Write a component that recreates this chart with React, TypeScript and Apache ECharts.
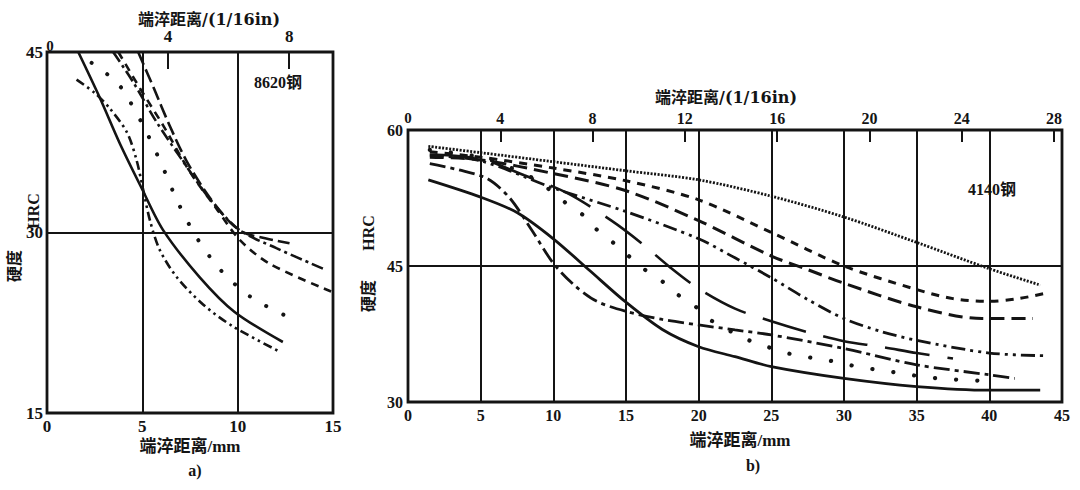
import { useEffect, useRef } from "react";
import * as echarts from "echarts";

// ---------- Left chart (8620钢) : [distance mm, HRC] ----------
const L_SOLID = [[1.64, 45], [2.77, 41.2], [3.82, 37.4], [4.96, 33.7], [6.09, 30.2], [8.0, 26.3], [9.84, 23.4], [12.37, 20.9]];
const L_DASHDOTDOT = [[1.55, 42.7], [2.5, 41.6], [3.3, 40.3], [4.2, 38.3], [4.7, 36.0], [5.05, 33.5], [5.4, 31.0], [5.9, 28.6], [6.8, 26.3], [8.2, 24.0], [9.75, 22.2], [12.2, 20.1]];
const L_DOTS = [[2.34, 44.1], [3.2, 43.1], [3.91, 42.0], [5.04, 38.9], [6.0, 35.7], [6.84, 32.6], [7.84, 29.6], [9.15, 26.8], [10.72, 24.6], [12.63, 23.0]];
const L_DASHDOT = [[3.47, 45], [4.52, 42.5], [5.74, 39.2], [7.14, 35.9], [8.53, 32.8], [10.1, 30.2], [12.03, 28.7], [14.47, 27.0]];
const L_SHORTDASH = [[3.74, 45], [4.87, 42.0], [6.09, 38.9], [7.49, 35.05], [8.88, 32.0], [10.1, 29.4], [11.68, 27.4], [14.9, 25.1]];
const L_LONGDASH = [[4.78, 45], [5.6, 42.0], [6.4, 39.0], [7.3, 36.0], [8.4, 33.2], [9.5, 31.0], [10.3, 30.0], [11.5, 29.5], [12.72, 29.1]];

// ---------- Right chart (4140钢) ----------
const R_FINEDOT = [[1.4, 58.2], [5, 57.5], [10, 56.5], [15, 55.5], [20, 54.5], [25, 52.7], [30, 50.4], [35, 47.6], [40, 44.7], [43.5, 42.9]];
const R_SHORTDASH = [[1.5, 57.6], [5, 57.0], [10, 55.8], [15, 54.4], [20, 52.3], [25, 48.7], [30, 45.0], [35, 42.4], [37.5, 41.4], [40, 41.1], [42, 41.4], [43.9, 42.0]];
const R_LONGDASH = [[1.5, 57.0], [5, 56.7], [10, 55.2], [15, 53.3], [20, 50.0], [25, 46.1], [27.5, 44.6], [30, 43.1], [35, 40.5], [39.5, 39.2], [43, 39.2]];
const R_DASHDOTDOT = [[1.5, 57.2], [5, 56.6], [10, 53.6], [15, 51.0], [20, 48.0], [22.5, 45.9], [25, 43.7], [27.5, 41.3], [30, 39.2], [32.5, 37.8], [35, 36.8], [40, 35.4], [43.9, 35.1]];
const R_SEGMENT = [[1.5, 57.3], [5, 56.8], [8, 55.0], [11, 53.0], [14, 50.0], [16, 47.6], [18, 44.9], [20, 42.5], [22.5, 40.3], [25, 38.9], [27.5, 37.7], [30, 36.7], [32.5, 36.1], [35, 35.4], [37.5, 34.8]];
const R_DOTS = [[1.5, 57.8], [3.5, 57.4], [5.5, 56.8], [8.6, 54.7], [9.75, 53.4], [10.9, 51.9], [12.1, 50.55], [13.0, 49.0], [14.1, 47.6], [16.3, 44.6], [17.5, 43.3], [18.6, 41.8], [19.8, 40.5], [20.8, 39.05], [23.4, 36.85], [24.7, 36.1], [26.05, 35.4], [27.5, 34.95], [28.9, 34.6], [30.3, 34.1], [31.7, 33.7], [33.2, 33.35], [34.5, 33.0], [35.9, 32.7], [37.4, 32.5], [38.8, 32.4], [40.2, 32.25]];
const R_DASHDOT = [[1.5, 56.3], [3.5, 55.6], [5.5, 54.6], [7, 52.5], [8.5, 49.0], [10, 45.3], [11.5, 42.8], [13, 41.1], [15, 40.0], [17.5, 39.1], [20, 38.5], [22.5, 37.95], [25, 37.4], [30, 35.9], [35, 34.1], [40, 33.0], [41.75, 32.6]];
const R_SOLID = [[1.4, 54.5], [5, 52.6], [7.5, 50.9], [10, 48.0], [12.5, 44.5], [15, 41.0], [17.5, 38.0], [20, 36.1], [22.5, 35.0], [25, 33.9], [30, 32.6], [35, 31.7], [40, 31.3], [43.5, 31.3]];

// axis ranges
const L_MM = [0, 15];
const L_HRC = [15, 45];
const R_MM = [0, 45];
const R_HRC = [30, 60];
const MM_PER_16TH = 1.5875;

const NUM_FONT = "'Liberation Serif', 'Times New Roman', serif";
const TITLE_FONT = "'DejaVu Serif', 'Noto Sans CJK SC', serif";
const CJK_FONT = "'Liberation Serif', 'Noto Sans CJK SC', serif";

const INK = "#141414";

function lineSeries(data: number[][], xi: number, yi: number, type: any, width = 2.6, cap: any = "butt") {
  return {
    type: "line",
    xAxisIndex: xi,
    yAxisIndex: yi,
    data,
    showSymbol: false,
    smooth: 0.3,
    silent: true,
    lineStyle: { color: INK, width, type, cap },
  };
}

function txt(text: string, x: number, y: number, size: number, font: string, rotation = 0) {
  return {
    type: "text",
    x,
    y,
    rotation,
    silent: true,
    style: {
      text,
      fill: INK,
      font: `bold ${size}px ${font}`,
      textAlign: "center",
      textVerticalAlign: "middle",
      align: "center",
      verticalAlign: "middle",
    },
  };
}

const numLabel = (size: number, margin: number) => ({
  color: INK,
  fontSize: size,
  fontWeight: "bold",
  fontFamily: NUM_FONT,
  margin,
});

const topFormatter = (v: number) => {
  const r = Math.round(v);
  return Math.abs(v - r) < 1e-6 && r > 0 && r % 4 === 0 ? String(r) : "";
};

export default function App() {
  const ref = useRef<HTMLDivElement>(null);
  useEffect(() => {
    if (!ref.current) return;
    const chart = echarts.init(ref.current, null, { renderer: "svg" });
    const gridStyle = { show: true, borderColor: INK, borderWidth: 2.8, backgroundColor: "#fff" };
    const split = { show: true, lineStyle: { color: INK, width: 2 } };
    chart.setOption({
      animation: false,
      backgroundColor: "#fff",
      grid: [
        { left: 47, top: 52, width: 286, height: 361, ...gridStyle },
        { left: 408, top: 130, width: 654, height: 272, ...gridStyle },
      ],
      xAxis: [
        {
          gridIndex: 0, type: "value", position: "bottom", min: L_MM[0], max: L_MM[1], interval: 5,
          axisLine: { show: false }, axisTick: { show: false }, axisLabel: numLabel(17, 5), splitLine: split,
        },
        {
          gridIndex: 0, type: "value", position: "top", min: 0, max: L_MM[1] / MM_PER_16TH, interval: 4,
          axisLine: { show: false },
          axisTick: { show: true, inside: true, length: 17, lineStyle: { color: INK, width: 2 } },
          axisLabel: { ...numLabel(17, 7), formatter: topFormatter },
          splitLine: { show: false },
        },
        {
          gridIndex: 1, type: "value", position: "bottom", min: R_MM[0], max: R_MM[1], interval: 5,
          axisLine: { show: false }, axisTick: { show: false }, axisLabel: numLabel(16, 5), splitLine: split,
        },
        {
          gridIndex: 1, type: "value", position: "top", min: 0, max: R_MM[1] / MM_PER_16TH, interval: 4,
          axisLine: { show: false },
          axisTick: { show: true, inside: true, length: 12, lineStyle: { color: INK, width: 2 } },
          axisLabel: { ...numLabel(16, 4), formatter: topFormatter },
          splitLine: { show: false },
        },
      ],
      yAxis: [
        {
          gridIndex: 0, type: "value", min: L_HRC[0], max: L_HRC[1], interval: 15,
          axisLine: { show: false }, axisTick: { show: false }, axisLabel: numLabel(17, 4), splitLine: split,
        },
        {
          gridIndex: 1, type: "value", min: R_HRC[0], max: R_HRC[1], interval: 15,
          axisLine: { show: false }, axisTick: { show: false }, axisLabel: numLabel(16, 5), splitLine: split,
        },
      ],
      series: [
        lineSeries(L_SOLID, 0, 0, "solid", 2.6),
        lineSeries(L_DASHDOTDOT, 0, 0, [9, 4, 2.5, 4, 2.5, 4], 2.6),
        lineSeries(L_DOTS, 0, 0, [0.1, 19], 4, "round"),
        lineSeries(L_DASHDOT, 0, 0, [12, 4, 3, 4], 2.6),
        lineSeries(L_SHORTDASH, 0, 0, [8, 6], 2.6),
        lineSeries(L_LONGDASH, 0, 0, [14, 5], 2.6),

        lineSeries(R_FINEDOT, 2, 1, [2, 1.5], 2.8),
        lineSeries(R_SHORTDASH, 2, 1, [8, 7], 3),
        lineSeries(R_LONGDASH, 2, 1, [14, 7], 3),
        lineSeries(R_DASHDOTDOT, 2, 1, [14, 5, 3, 5, 3, 5], 2.8),
        lineSeries(R_SEGMENT, 2, 1, [45, 18], 2.6),
        lineSeries(R_DOTS, 2, 1, [0.1, 21], 4.2, "round"),
        lineSeries(R_DASHDOT, 2, 1, [16, 5, 4, 5], 2.8),
        lineSeries(R_SOLID, 2, 1, "solid", 2.8),
      ],
      graphic: [
        txt("端淬距离/(1/16in)", 209, 19, 16, TITLE_FONT),
        txt("端淬距离/(1/16in)", 726, 97, 16, TITLE_FONT),
        txt("端淬距离/mm", 190, 446, 17, CJK_FONT),
        txt("端淬距离/mm", 740, 440, 17, CJK_FONT),
        txt("a)", 195, 470, 16, CJK_FONT),
        txt("b)", 753, 465, 16, CJK_FONT),
        txt("8620钢", 278, 82, 16, CJK_FONT),
        txt("4140钢", 992, 189, 16, CJK_FONT),
        txt("HRC", 33, 211, 16, CJK_FONT, Math.PI / 2),
        txt("硬度", 14, 266, 16, CJK_FONT, Math.PI / 2),
        txt("HRC", 368, 233, 16, CJK_FONT, Math.PI / 2),
        txt("硬度", 368, 296, 16, CJK_FONT, Math.PI / 2),
        txt("0", 50, 46, 15, NUM_FONT),
        txt("0", 408, 118, 15, NUM_FONT),
      ],
    });
    return () => chart.dispose();
  }, []);
  return (
    <div
      ref={ref}
      style={{ position: "absolute", left: 0, top: 0, width: 1080, height: 490, background: "#fff" }}
    />
  );
}
